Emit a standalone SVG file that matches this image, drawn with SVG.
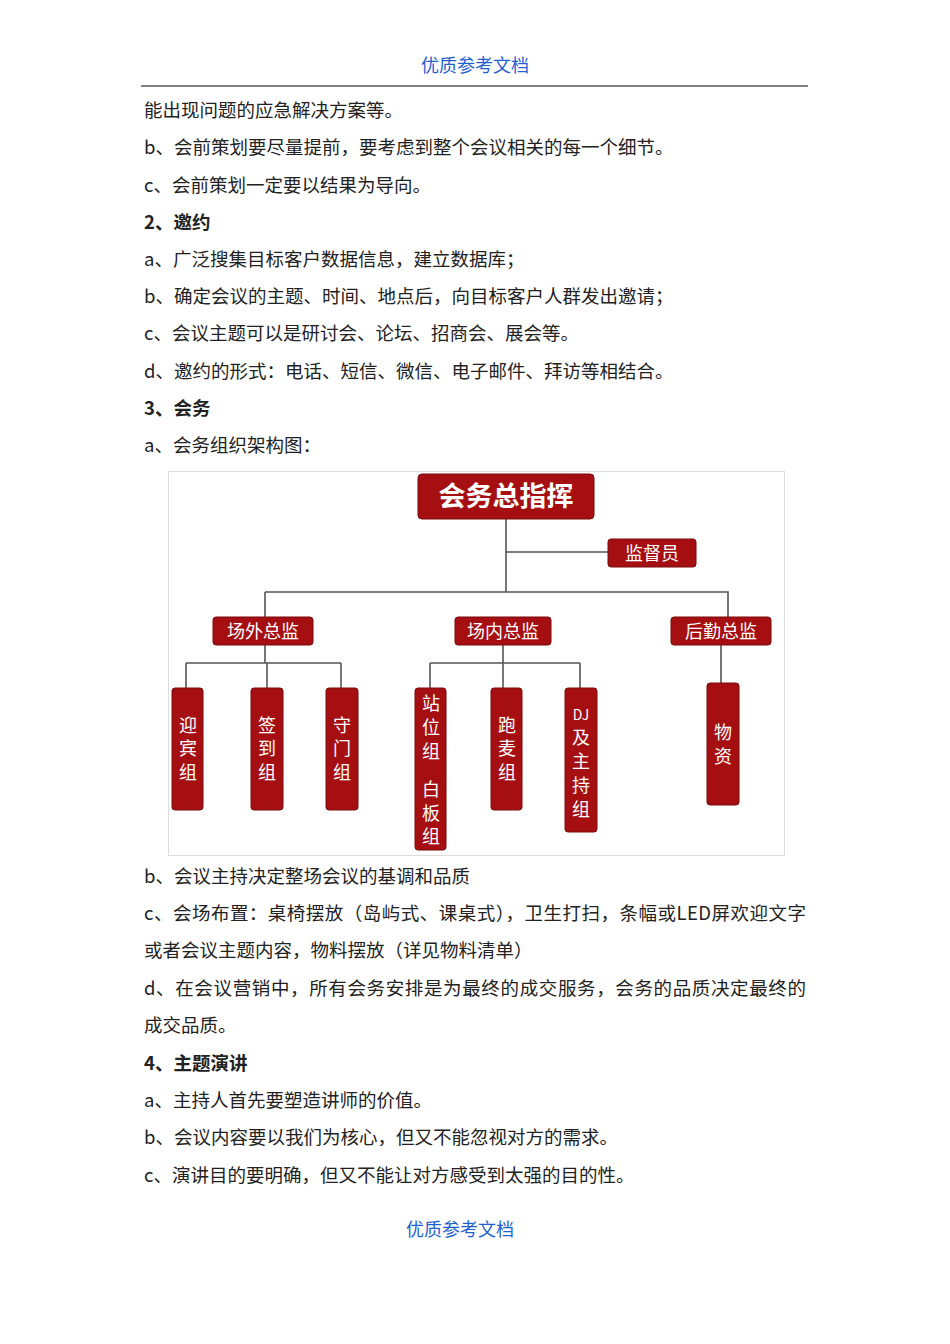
<svg xmlns="http://www.w3.org/2000/svg" width="950" height="1344" viewBox="0 0 950 1344">
<style>
.t{font-family:"Noto Sans CJK SC","Liberation Serif",serif;font-size:18.5px;fill:#222}
.b{font-weight:bold}
.h{font-family:"Noto Sans CJK SC",sans-serif;font-size:18px;fill:#1f5fd0}
.box{fill:#a50f12;stroke:#7a0a0c;stroke-width:1}
.bt{font-family:"Noto Sans CJK SC",sans-serif;fill:#fff;font-size:18px;text-anchor:middle}
.ln{stroke:#555;stroke-width:1.6;fill:none}
</style>
<rect width="950" height="1344" fill="#fff"/>
<text class="h" x="475" y="72" text-anchor="middle">优质参考文档</text>
<line x1="141" y1="86" x2="808" y2="86" stroke="#000" stroke-width="1"/>
<g class="t">
<text x="144" y="117">能出现问题的应急解决方案等。</text>
<text x="144" y="154">b、会前策划要尽量提前，要考虑到整个会议相关的每一个细节。</text>
<text x="144" y="192">c、会前策划一定要以结果为导向。</text>
<text x="144" y="229" class="t b">2、邀约</text>
<text x="144" y="266">a、广泛搜集目标客户数据信息，建立数据库；</text>
<text x="144" y="303">b、确定会议的主题、时间、地点后，向目标客户人群发出邀请；</text>
<text x="144" y="340">c、会议主题可以是研讨会、论坛、招商会、展会等。</text>
<text x="144" y="378">d、邀约的形式：电话、短信、微信、电子邮件、拜访等相结合。</text>
<text x="144" y="415" class="t b">3、会务</text>
<text x="144" y="452">a、会务组织架构图：</text>
<text x="144" y="883">b、会议主持决定整场会议的基调和品质</text>
<text x="144" y="920" textLength="662" lengthAdjust="spacing">c、会场布置：桌椅摆放（岛屿式、课桌式），卫生打扫，条幅或LED屏欢迎文字</text>
<text x="144" y="957">或者会议主题内容，物料摆放（详见物料清单）</text>
<text x="144" y="995" textLength="662" lengthAdjust="spacing">d、在会议营销中，所有会务安排是为最终的成交服务，会务的品质决定最终的</text>
<text x="144" y="1032">成交品质。</text>
<text x="144" y="1070" class="t b">4、主题演讲</text>
<text x="144" y="1107">a、主持人首先要塑造讲师的价值。</text>
<text x="144" y="1144">b、会议内容要以我们为核心，但又不能忽视对方的需求。</text>
<text x="144" y="1182">c、演讲目的要明确，但又不能让对方感受到太强的目的性。</text>
</g>
<text class="h" x="460" y="1236" text-anchor="middle">优质参考文档</text>
<rect x="168.5" y="471.5" width="616" height="384" fill="none" stroke="#ddd"/>
<g id="connectors" class="ln">
<path d="M506 519V592M506 552H608M265 592H728V617M265 592V617M265 645V663M186 663H341M186 663V688M267 663V688M341 663V688M503 645V688M430 663H580M430 663V688M580 663V688M721 645V683"/>
</g>
<g id="n0"><rect class="box" x="418" y="474" width="176" height="45" rx="4"/><text class="bt" x="506" y="506" style="font-size:27px;font-weight:bold">会务总指挥</text></g>
<g id="n1"><rect class="box" x="608" y="539" width="88" height="28" rx="3"/><text class="bt" x="652" y="560">监督员</text></g>
<g id="n2"><rect class="box" x="213" y="617" width="100" height="28" rx="3"/><text class="bt" x="263" y="638">场外总监</text></g>
<g id="n3"><rect class="box" x="455" y="617" width="96" height="28" rx="3"/><text class="bt" x="503" y="638">场内总监</text></g>
<g id="n4"><rect class="box" x="671" y="617" width="100" height="28" rx="3"/><text class="bt" x="721" y="638">后勤总监</text></g>
<g id="n5"><rect class="box" x="172" y="688" width="31" height="122" rx="3"/><text class="bt" x="188" y="732">迎</text><text class="bt" x="188" y="755">宾</text><text class="bt" x="188" y="779">组</text></g>
<g id="n6"><rect class="box" x="251" y="688" width="32" height="122" rx="3"/><text class="bt" x="267" y="732">签</text><text class="bt" x="267" y="755">到</text><text class="bt" x="267" y="779">组</text></g>
<g id="n7"><rect class="box" x="326" y="688" width="32" height="122" rx="3"/><text class="bt" x="342" y="732">守</text><text class="bt" x="342" y="755">门</text><text class="bt" x="342" y="779">组</text></g>
<g id="n8"><rect class="box" x="415" y="688" width="31" height="162" rx="3"/><text class="bt" x="431" y="710">站</text><text class="bt" x="431" y="734">位</text><text class="bt" x="431" y="758">组</text><text class="bt" x="431" y="796">白</text><text class="bt" x="431" y="820">板</text><text class="bt" x="431" y="843">组</text></g>
<g id="n9"><rect class="box" x="491" y="688" width="31" height="122" rx="3"/><text class="bt" x="507" y="732">跑</text><text class="bt" x="507" y="755">麦</text><text class="bt" x="507" y="779">组</text></g>
<g id="n10"><rect class="box" x="565" y="688" width="32" height="144" rx="3"/><text class="bt" x="581" y="720" style="font-size:14px">DJ</text><text class="bt" x="581" y="744">及</text><text class="bt" x="581" y="768">主</text><text class="bt" x="581" y="792">持</text><text class="bt" x="581" y="816">组</text></g>
<g id="n11"><rect class="box" x="707" y="683" width="32" height="122" rx="3"/><text class="bt" x="723" y="739">物</text><text class="bt" x="723" y="763">资</text></g>
</svg>
